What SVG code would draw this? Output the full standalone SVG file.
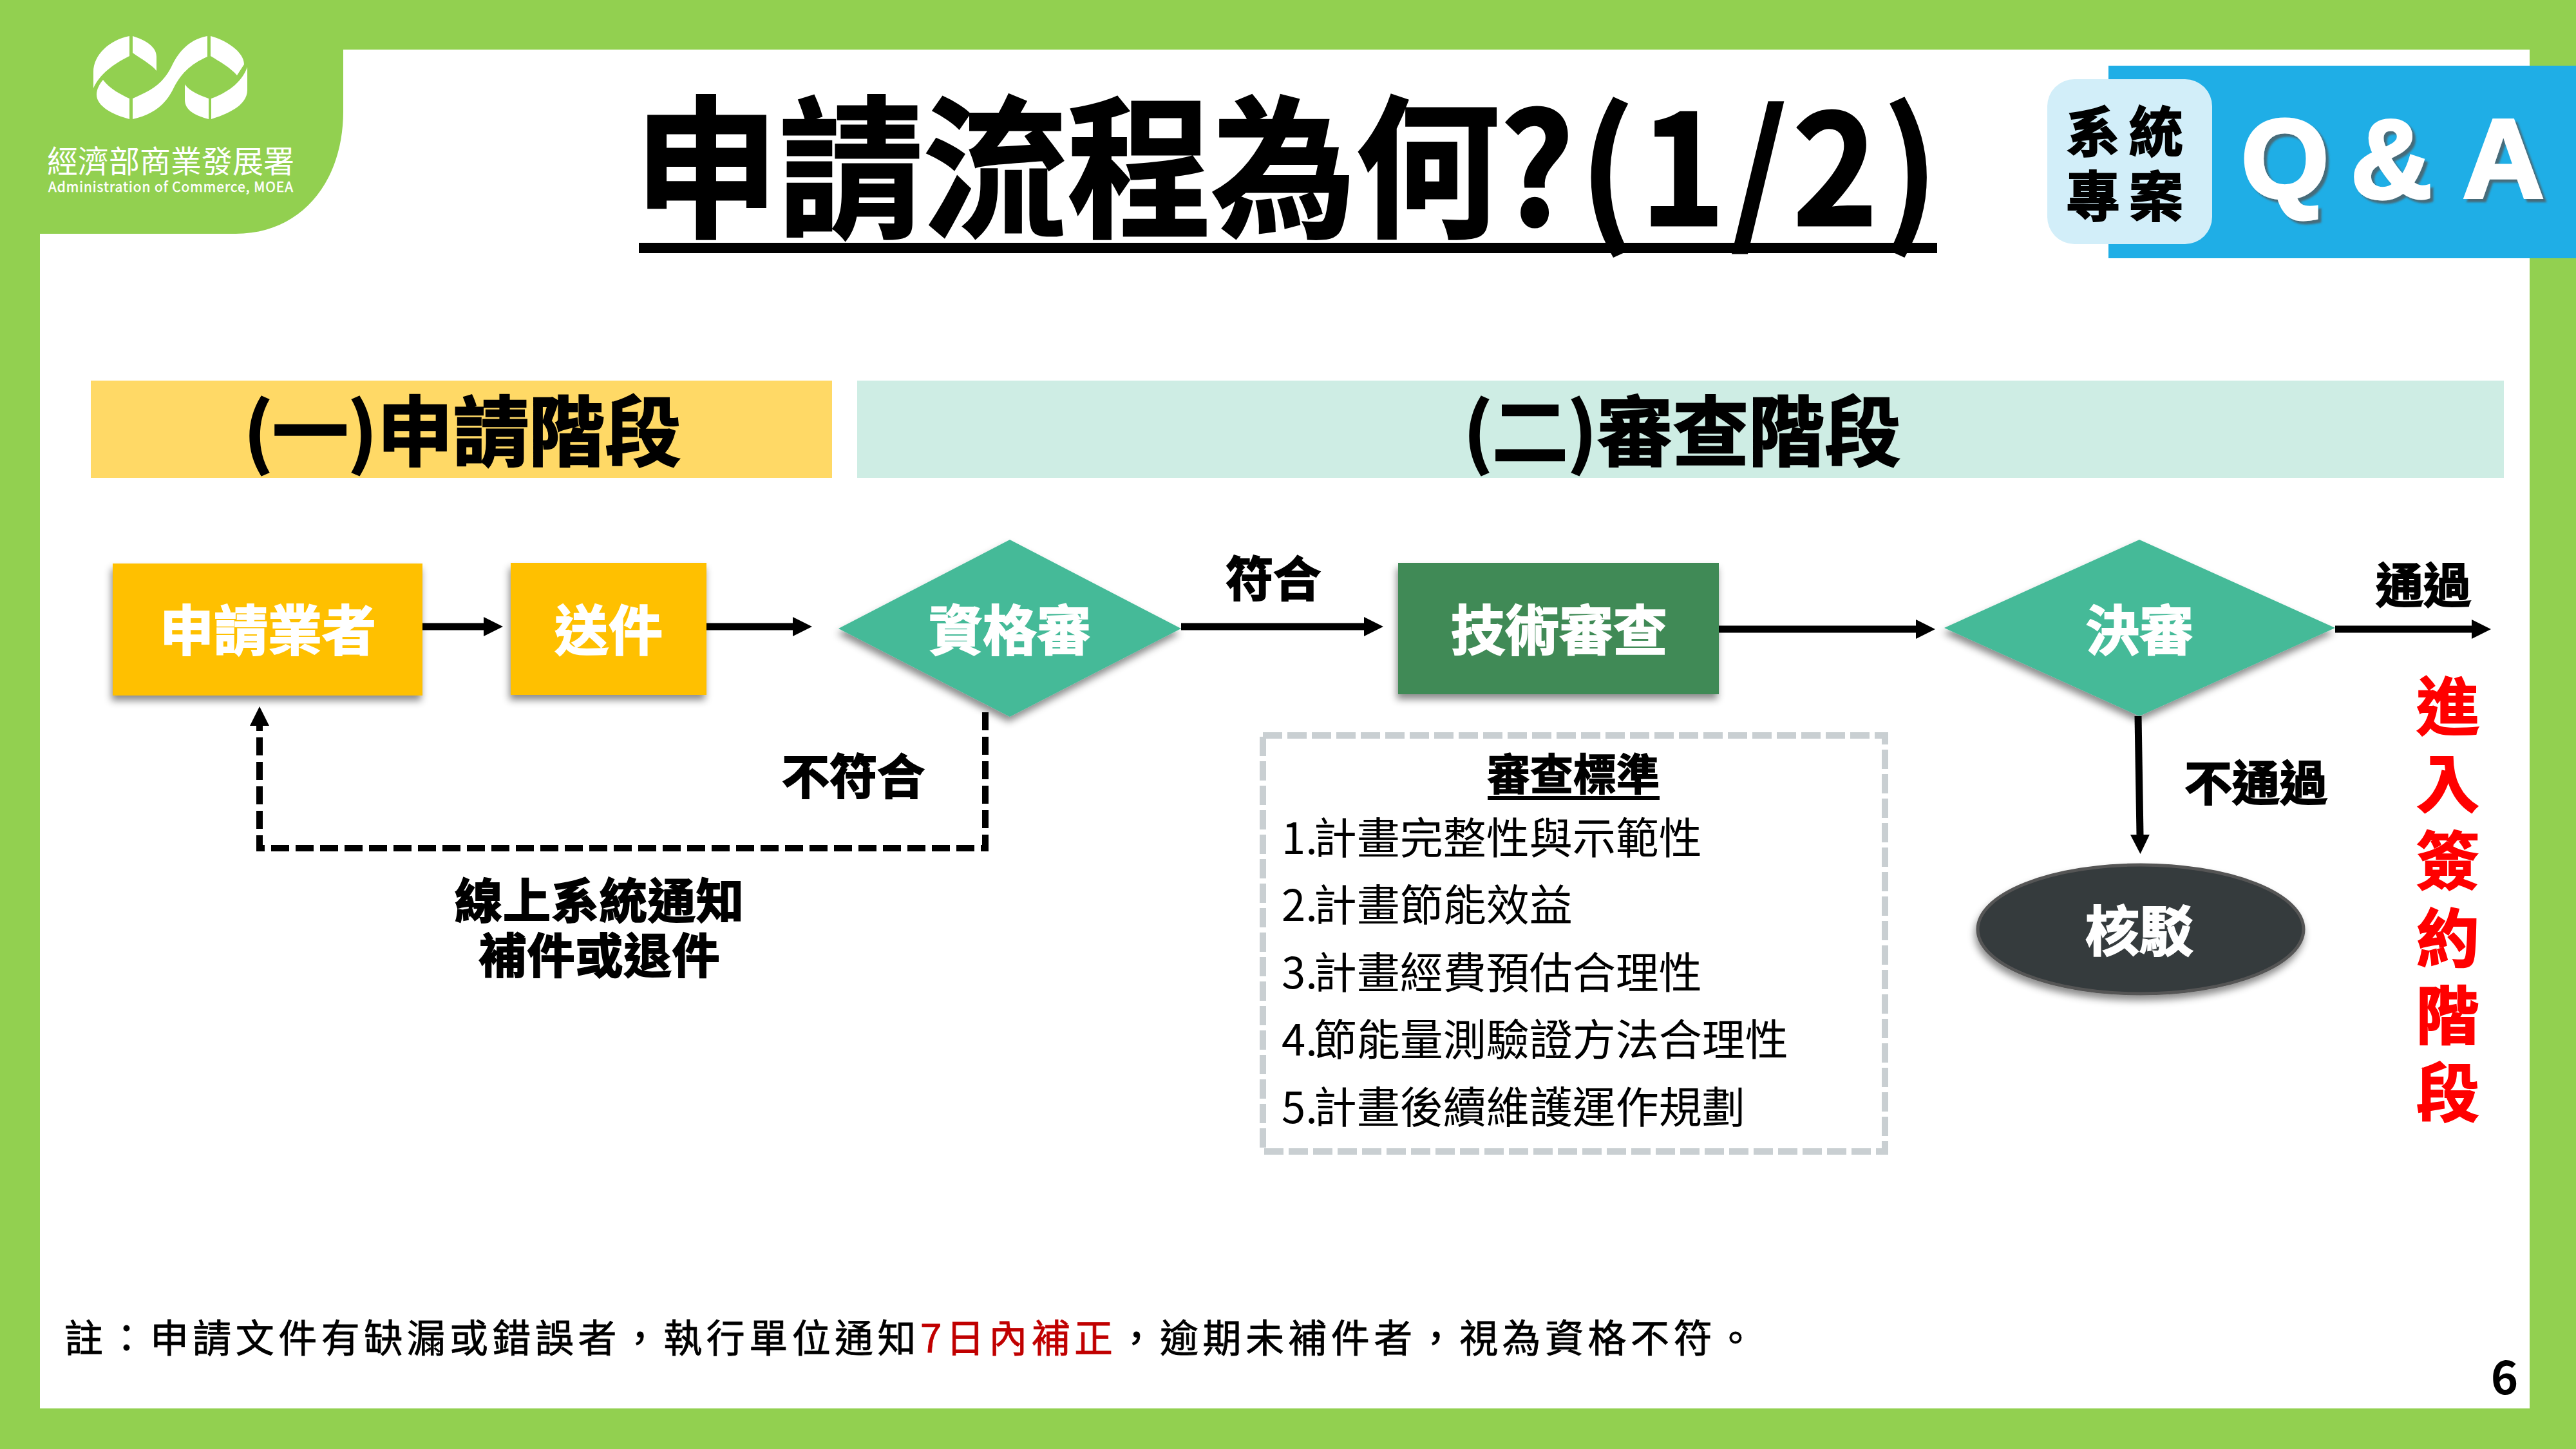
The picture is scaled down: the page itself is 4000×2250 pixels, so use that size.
<svg xmlns="http://www.w3.org/2000/svg" width="4000" height="2250" viewBox="0 0 4000 2250">
<defs>
<style>
text{font-family:"Noto Sans CJK TC","Noto Sans",sans-serif}
.b{font-weight:700}
.k{fill:#000}
.w{fill:#fff}
.n{font-size:84px;font-weight:700;fill:#fff;stroke:#fff;stroke-width:2;text-anchor:middle}
.l{font-size:74px;font-weight:700;fill:#000;stroke:#000;stroke-width:2;text-anchor:middle}
.c{font-size:67px;fill:#000}
.h{stroke:#000;stroke-width:2.5}
.r{font-size:98px;font-weight:700;fill:#f00;stroke:#f00;stroke-width:2;text-anchor:middle}
.a{fill:none;stroke:#000;stroke-width:11}
.d{fill:none;stroke:#000;stroke-width:10;stroke-dasharray:28 10}
</style>
<marker id="h" viewBox="0 0 30 30" refX="0" refY="15" markerWidth="30" markerHeight="30" markerUnits="userSpaceOnUse" orient="auto"><path d="M0 0L30 15L0 30Z" fill="#000"/></marker>
<filter id="s" x="-10%" y="-10%" width="125%" height="125%"><feDropShadow dx="-2" dy="8" stdDeviation="6" flood-color="#000" flood-opacity=".45"/></filter>
<filter id="t" x="-10%" y="-10%" width="125%" height="125%"><feDropShadow dx="5" dy="5" stdDeviation="1.5" flood-color="#555" flood-opacity=".75"/></filter>
</defs>
<rect width="4000" height="2250" fill="#92D050"/>
<path d="M533 77H3928V2187H62V363H366C470 363 533 280 533 173Z" fill="#fff"/>
<g id="logo" fill="#fff">
<path d="M201 56C170 62 145 85 145 112V137C155 115 175 100 201 87Z"/>
<path d="M206 56C225 62 243 72 243 88V110C235 100 220 92 206 82Z"/>
<path d="M160 124C170 138 190 148 201 153V185C175 178 150 165 150 147C150 138 155 130 160 124Z"/>
<path d="M322 56C290 62 275 85 266 104C250 135 230 142 206 153V185C235 178 255 165 268 140C280 115 295 100 322 88Z"/>
<path d="M327 56C350 62 379 80 379 100L368 117C358 105 340 95 327 87Z"/>
<path d="M384 104V140C384 165 350 178 328 185V153C350 145 375 130 384 104Z"/>
<path d="M287 131C295 142 310 148 324 153V185C305 180 287 172 287 155Z"/>
<text x="265" y="268" font-size="48" text-anchor="middle" textLength="384" class="w">經濟部商業發展署</text>
<text x="265" y="298" font-size="21" text-anchor="middle" textLength="380" stroke="#fff" stroke-width=".5" class="w">Administration of Commerce, MOEA</text>
</g>
<g id="title">
<text transform="translate(985,350) scale(1,1.06)" font-size="224" stroke="#000" stroke-width="3" class="b k">申請流程為何<tspan letter-spacing="9">?(1/2)</tspan></text>
<rect x="992" y="377" width="2016" height="16" fill="#000"/>
</g>
<g id="qa">
<rect x="3274" y="102" width="726" height="299" fill="#1FAEE6"/>
<rect x="3179" y="123" width="256" height="256" rx="42" fill="#D2EEF9"/>
<text x="3306" y="236" font-size="84" letter-spacing="14" text-anchor="middle" stroke="#000" stroke-width="2" class="b k">系統</text>
<text x="3306" y="336" font-size="84" letter-spacing="14" text-anchor="middle" stroke="#000" stroke-width="2" class="b k">專案</text>
<text x="3480 3600 3650 3790 3824" y="307" font-size="175" stroke="#fff" stroke-width="5" filter="url(#t)" style="font-family:'Liberation Sans',sans-serif" class="b w">Q &amp; A</text>
</g>
<g id="band1"><rect x="141" y="591" width="1151" height="151" fill="#FFD966"/>
<text x="718" y="714" font-size="118" text-anchor="middle" class="b k h">(一)申請階段</text></g>
<g id="band2"><rect x="1331" y="591" width="2557" height="151" fill="#CEEDE4"/>
<text x="2612" y="714" font-size="118" text-anchor="middle" class="b k h">(二)審查階段</text></g>
<g id="connectors">
<path class="a" marker-end="url(#h)" d="M656 973H751"/>
<path class="a" marker-end="url(#h)" d="M1097 973H1231"/>
<path class="a" marker-end="url(#h)" d="M1834 973H2118"/>
<path class="a" marker-end="url(#h)" d="M2669 977H2975"/>
<path class="a" marker-end="url(#h)" d="M3626 977H3838"/>
<path class="a" marker-end="url(#h)" d="M3320 1112L3323 1296"/>
<path class="d" marker-end="url(#h)" d="M1530 1106V1317H403V1127"/>
</g>
<g id="n1"><rect x="175" y="875" width="481" height="205" fill="#FFC000" filter="url(#s)"/><text x="416" y="1010" class="n">申請業者</text></g>
<g id="n2"><rect x="793" y="874" width="304" height="205" fill="#FFC000" filter="url(#s)"/><text x="945" y="1010" class="n">送件</text></g>
<g id="n3"><path d="M1568 838L1834 976L1568 1113L1302 976Z" fill="#45BA98" filter="url(#s)"/><text x="1568" y="1010" class="n">資格審</text></g>
<g id="n4"><rect x="2171" y="874" width="498" height="204" fill="#3F8A56" filter="url(#s)"/><text x="2421" y="1010" class="n">技術審查</text></g>
<g id="n5"><path d="M3322 838L3626 975L3322 1112L3019 975Z" fill="#45BA98" filter="url(#s)"/><text x="3322" y="1010" class="n">決審</text></g>
<g id="n6"><ellipse cx="3324" cy="1443" rx="253" ry="100" fill="#343A3D" stroke="#555" stroke-width="5" filter="url(#s)"/><text x="3322" y="1477" class="n">核駁</text></g>
<g id="labels">
<text x="1977" y="926" class="l">符合</text>
<text x="1325" y="1233" class="l">不符合</text>
<text x="931" y="1426" letter-spacing="1" class="l">線上系統通知</text>
<text x="931" y="1511" letter-spacing="1" class="l">補件或退件</text>
<text x="3763" y="936" class="l">通過</text>
<text x="3503" y="1243" class="l">不通過</text>
</g>
<g id="signing">
<text x="3801" y="1133" class="r">進</text>
<text x="3801" y="1253" class="r">入</text>
<text x="3801" y="1373" class="r">簽</text>
<text x="3801" y="1493" class="r">約</text>
<text x="3801" y="1613" class="r">階</text>
<text x="3801" y="1733" class="r">段</text>
</g>
<g id="criteria">
<rect x="1961" y="1142" width="966" height="646" fill="none" stroke="#C9CFD2" stroke-width="10" stroke-dasharray="30 8"/>
<text x="2443" y="1227" font-size="67" text-anchor="middle" class="b k" stroke="#000" stroke-width="1.5">審查標準</text>
<rect x="2310" y="1236" width="267" height="6" fill="#000"/>
<text x="1990" y="1326" class="c">1.<tspan dx="-6">計畫完整性與示範性</tspan></text>
<text x="1990" y="1430" class="c">2.<tspan dx="-6">計畫節能效益</tspan></text>
<text x="1990" y="1535" class="c">3.<tspan dx="-6">計畫經費預估合理性</tspan></text>
<text x="1990" y="1639" class="c">4.<tspan dx="-6">節能量測驗證方法合理性</tspan></text>
<text x="1990" y="1744" class="c">5.<tspan dx="-6">計畫後續維護運作規劃</tspan></text>
</g>
<g id="note">
<text x="100" y="2100" font-size="60" letter-spacing="6.45" stroke="#000" stroke-width=".8" class="k">註：申請文件有缺漏或錯誤者，執行單位通知<tspan fill="#C00000" stroke="#C00000">7日內補正</tspan>，逾期未補件者，視為資格不符。</text>
</g>
<text x="3889" y="2165" font-size="72" text-anchor="middle" class="b k">6</text>
</svg>
